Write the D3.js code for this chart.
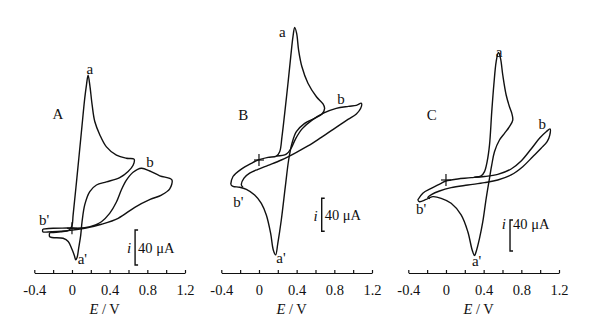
<!DOCTYPE html>
<html>
<head>
<meta charset="utf-8">
<script src="https://cdn.jsdelivr.net/npm/d3@7"></script>
<style>
  body { margin: 0; background: #fff; }
  text { font-family: "Liberation Serif", "Times New Roman", serif; fill: #111; }
</style>
</head>
<body>
<svg width="592" height="327"></svg>
<script>
// potential (V) vs current (uA)

// panel A
var loopA1 = [[-0.236,-5],[-0.12,-4],[-0.03,-2],[0.0,3],[0.012,15],[0.048,53],[0.10,110],[0.136,149],[0.154,164],[0.171,175],
  [0.189,164],[0.214,141],[0.242,122],[0.295,107],[0.366,93],[0.472,83.5],[0.578,80],[0.659,79],[0.649,72],[0.596,65],
  [0.507,58],[0.366,53],[0.26,49.5],[0.189,42],[0.136,27],[0.107,7.5],[0.093,-7.7],[0.072,-22],[0.055,-33],[0.04,-36],
  [0.025,-31],[0.0,-24],[-0.04,-15],[-0.094,-11.4],[-0.236,-9.6],[-0.236,-5]];
var loopA2 = [[-0.31,-1],[-0.2,0],[-0.05,0.3],[0.136,0.7],[0.25,4],[0.313,7.5],[0.40,17],[0.472,30],[0.525,44],[0.578,55],
  [0.649,64],[0.737,68.6],[0.826,65.5],[0.932,60],[1.038,57],[1.063,55],[1.038,45],[0.95,38],[0.83,33],[0.667,24],
  [0.49,11.4],[0.313,4.6],[0.136,0],[-0.04,-2.7],[-0.218,-3.8],[-0.31,-4],[-0.31,-1]];

// panel B
var loopB1 = [[-0.30,-29.5],[-0.276,-20],[-0.187,-11],[-0.081,-4],[-0.01,0],[0.096,3.2],[0.185,4.8],[0.22,10],[0.244,28],
  [0.273,56.6],[0.308,93],[0.337,125],[0.361,149.5],[0.379,160.8],[0.40,153.5],[0.421,133],[0.456,113],[0.52,93],
  [0.61,76.7],[0.68,67.9],[0.697,62.6],[0.669,55.8],[0.59,50.5],[0.485,44.4],[0.397,34.3],[0.35,20],[0.315,0],
  [0.28,-32],[0.237,-72.7],[0.20,-101],[0.177,-115],[0.152,-109],[0.124,-89],[0.078,-66.7],[0.025,-52.5],
  [-0.046,-42.4],[-0.134,-35.6],[-0.205,-33],[-0.276,-32],[-0.30,-29.5]];
var loopB2 = [[0.185,4.8],[0.29,7],[0.34,14],[0.39,26],[0.46,38],[0.56,48],[0.69,57],[0.82,62.5],[0.95,65],[1.034,66.3],
  [1.087,68.7],[1.08,62.6],[1.034,55.8],[0.945,49.3],[0.804,38.4],[0.662,27.5],[0.52,17],[0.379,8.1],[0.237,0],
  [0.096,-6.5],[-0.01,-11.3],[-0.099,-16],[-0.159,-22],[-0.187,-30],[-0.17,-33]];

// panel C
var loopC1 = [[-0.30,-25.8],[-0.246,-17],[-0.157,-10.8],[-0.051,-4.3],[0,-1.3],[0.125,1.3],[0.267,3],[0.373,5.2],[0.409,10.8],
  [0.437,23.7],[0.462,45],[0.486,88],[0.508,122.6],[0.533,152.7],[0.557,164.7],[0.579,157],[0.603,135.5],[0.639,109.7],
  [0.674,94.6],[0.699,86],[0.709,77.4],[0.674,68.8],[0.621,60.2],[0.568,51.6],[0.515,36.5],[0.486,19.4],[0.462,2.2],
  [0.427,-23.6],[0.391,-53.8],[0.356,-75.3],[0.32,-92.5],[0.303,-97.6],[0.278,-90.3],[0.232,-66.7],[0.161,-45],
  [0.055,-30],[-0.051,-23.6],[-0.14,-21.5],[-0.21,-25],[-0.281,-28],[-0.30,-25.8]];
var loopC2 = [[0.30,3.5],[0.409,4.5],[0.55,7.3],[0.692,14.2],[0.798,24.5],[0.904,40],[0.993,53.8],[1.064,62.3],[1.106,65.8],
  [1.102,58],[1.074,49.4],[1.01,40.9],[0.921,30],[0.815,17.2],[0.692,6.5],[0.55,0],[0.409,-3.4],[0.232,-6.5],
  [0.055,-9.9],[-0.069,-14.2],[-0.15,-18.5],[-0.193,-22.8],[-0.17,-24]];

// peak labels [text, E, i]
var labelsA = [["a",0.19,182],["b",0.828,76],["b'",-0.297,9.5],["a'",0.11,-34.5],["A",-0.15,131]];
var labelsB = [["a",0.247,155.5],["b",0.871,74.8],["b'",-0.22,-50.5],["a'",0.233,-119],["B",-0.166,54.5]];
var labelsC = [["a",0.563,165.5],["b",1.022,73],["b'",-0.265,-37.4],["a'",0.325,-104.5],["C",-0.152,83.9]];

var tickVals = [-0.4,-0.2,0,0.2,0.4,0.6,0.8,1.0,1.2];
var tickLabels = ["-0.4","","0","","0.4","","0.8","","1.2"];
var barValue = 40; // uA

var panels = [
  {loops:[loopA1, loopA2], labels:labelsA, x0:34.3, x1:185, yZero:228.3, barPx:35, barE:0.67, barTop:-2, textAt:-22},
  {loops:[loopB1, loopB2], labels:labelsB, x0:221.3, x1:372, yZero:160, barPx:33, barE:0.666, barTop:-46.4, textAt:-67},
  {loops:[loopC1, loopC2], labels:labelsC, x0:408.3, x1:559, yZero:180, barPx:31, barE:0.68, barTop:-51.6, textAt:-57}
];

var svg = d3.select("svg");
var axisY = 273;

panels.forEach(function(p) {
  var xScale = d3.scaleLinear().domain([-0.4, 1.2]).range([p.x0, p.x1]);
  var yScale = d3.scaleLinear().domain([0, barValue]).range([p.yZero, p.yZero - p.barPx]);
  var g = svg.append("g");

  var line = d3.line()
    .x(function(d) { return xScale(d[0]); })
    .y(function(d) { return yScale(d[1]); })
    .curve(d3.curveCatmullRom.alpha(0.5));

  g.selectAll(".cv")
    .data(p.loops)
    .enter()
    .append("path")
    .attr("class", "cv")
    .attr("d", line)
    .attr("fill", "none")
    .attr("stroke", "#111")
    .attr("stroke-width", 1.4)
    .attr("stroke-linejoin", "round");

  // origin cross
  g.append("line").attr("x1", xScale(0) - 5).attr("x2", xScale(0) + 5)
    .attr("y1", yScale(0)).attr("y2", yScale(0)).attr("stroke", "#111").attr("stroke-width", 1.2);
  g.append("line").attr("x1", xScale(0)).attr("x2", xScale(0))
    .attr("y1", yScale(0) - 6).attr("y2", yScale(0) + 6).attr("stroke", "#111").attr("stroke-width", 1.2);

  g.selectAll(".lbl")
    .data(p.labels)
    .enter()
    .append("text")
    .attr("class", "lbl")
    .attr("x", function(d) { return xScale(d[1]); })
    .attr("y", function(d) { return yScale(d[2]); })
    .attr("dy", "0.35em")
    .attr("text-anchor", "middle")
    .style("font-size", "15px")
    .text(function(d) { return d[0]; });

  // scale bar
  var bx = xScale(p.barE);
  var bt = yScale(p.barTop), bb = yScale(p.barTop - barValue);
  g.append("path")
    .attr("d", "M" + (bx + 3) + "," + bt + "H" + bx + "V" + bb + "H" + (bx + 3))
    .attr("fill", "none").attr("stroke", "#111").attr("stroke-width", 1.4);
  g.append("text")
    .attr("x", bx - 4).attr("y", yScale(p.textAt)).attr("dy", "0.35em")
    .attr("text-anchor", "end").style("font-size", "15px").style("font-style", "italic")
    .text("i");
  g.append("text")
    .attr("x", bx + 3).attr("y", yScale(p.textAt)).attr("dy", "0.35em")
    .style("font-size", "14.5px")
    .text("40 μA");

  var axis = g.append("g")
    .attr("transform", "translate(0," + axisY + ")")
    .call(d3.axisBottom(xScale)
      .tickValues(tickVals)
      .tickFormat(function(d, i) { return tickLabels[i]; })
      .tickSizeInner(-3)
      .tickSizeOuter(0)
      .tickPadding(12));
  axis.attr("font-family", null).attr("font-size", null);
  axis.selectAll("text").style("font-size", "14.5px").attr("fill", "#111");
  axis.selectAll("path, line").attr("stroke", "#111").attr("stroke-width", 1.2);

  var xl = g.append("text")
    .attr("x", (p.x0 + p.x1) / 2 - 5)
    .attr("y", 314)
    .attr("text-anchor", "middle")
    .style("font-size", "14.5px");
  xl.append("tspan").style("font-style", "italic").text("E");
  xl.append("tspan").text(" / V");
});
</script>
</body>
</html>
